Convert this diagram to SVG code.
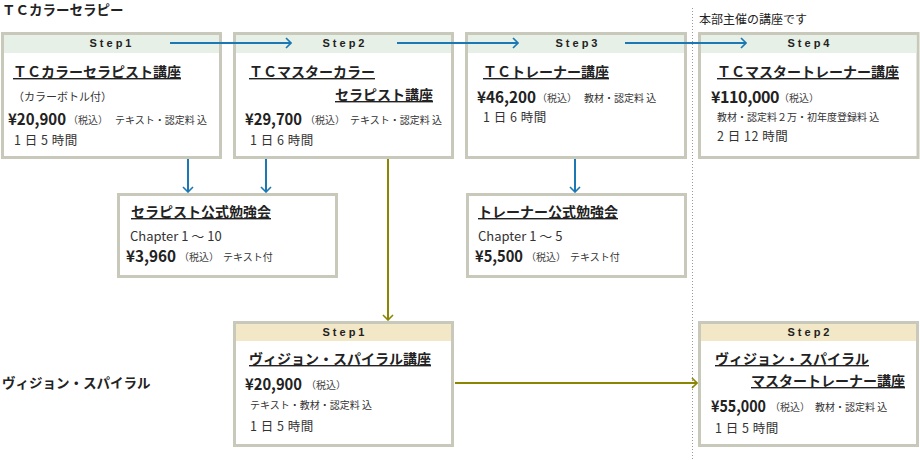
<svg xmlns="http://www.w3.org/2000/svg" width="920" height="460" viewBox="0 0 920 460">
<defs>
<style>
text{font-family:"Noto Sans CJK JP","Noto Sans",sans-serif;fill:#222}
.box{fill:#fff;stroke:#c9c9bb;stroke-width:3}
.hg{fill:#e6f0e6}
.hy{fill:#f2e7c6}
.step{font-family:"Liberation Sans",Arial,sans-serif;font-size:11px;font-weight:bold;letter-spacing:3px;text-anchor:middle;fill:#222}
.ttl{font-size:14px;font-weight:bold;text-decoration:underline}
.sec{font-size:13.5px;font-weight:bold}
.price{font-size:16px;font-weight:bold}
.tax{font-size:10px;fill:#444}
.sm{font-size:10px;fill:#333}
.time{font-size:12.5px;fill:#333;letter-spacing:0.5px}
.sub{font-size:11px;fill:#333}
.ch{font-size:13px;fill:#333}
.bl{stroke:#1a78b4;stroke-width:2;fill:none}
.ol{stroke:#8c8500;stroke-width:2;fill:none}
</style>
<marker id="ab" viewBox="0 0 7 12" refX="6" refY="6" markerWidth="7" markerHeight="12" orient="auto" markerUnits="userSpaceOnUse">
<path d="M1,1 L6,6 L1,11" fill="none" stroke="#1a78b4" stroke-width="1.6"/>
</marker>
<marker id="ao" viewBox="0 0 7 12" refX="6" refY="6" markerWidth="7" markerHeight="12" orient="auto" markerUnits="userSpaceOnUse">
<path d="M1,1 L6,6 L1,11" fill="none" stroke="#8c8500" stroke-width="1.6"/>
</marker>
</defs>
<rect width="920" height="460" fill="#fff"/>
<text class="sec" x="2" y="15">ＴＣカラーセラピー</text>
<text class="sec" x="2" y="388">ヴィジョン・スパイラル</text>
<line x1="692.5" y1="8" x2="692.5" y2="460" stroke="#999" stroke-width="1" stroke-dasharray="1 2"/>
<text x="699" y="24" font-size="12" fill="#333">本部主催の講座です</text>

<g id="tc-step1">
<rect class="box" x="2.5" y="33.5" width="218" height="124"/>
<rect class="hg" x="4" y="35" width="215" height="18"/>
<text class="step" x="112" y="47">Step1</text>
<text class="ttl" x="13" y="77">ＴＣカラーセラピスト講座</text>
<text class="sub" x="13" y="101">（カラーボトル付）</text>
<text class="price" x="8" y="125" textLength="58" lengthAdjust="spacingAndGlyphs">¥20,900</text>
<text class="tax" x="68" y="124">（税込）</text>
<text class="sm" x="115" y="124">テキスト・認定料 込</text>
<text class="time" x="14" y="145">1 日 5 時間</text>
</g>

<g id="tc-step2">
<rect class="box" x="234.5" y="33.5" width="218" height="124"/>
<rect class="hg" x="236" y="35" width="215" height="18"/>
<text class="step" x="345" y="47">Step2</text>
<text class="ttl" x="249" y="77">ＴＣマスターカラー</text>
<text class="ttl" x="335" y="100">セラピスト講座</text>
<text class="price" x="245" y="125" textLength="57" lengthAdjust="spacingAndGlyphs">¥29,700</text>
<text class="tax" x="305" y="124">（税込）</text>
<text class="sm" x="350" y="124">テキスト・認定料 込</text>
<text class="time" x="250" y="145">1 日 6 時間</text>
</g>

<g id="tc-step3">
<rect class="box" x="466.5" y="33.5" width="219" height="124"/>
<rect class="hg" x="468" y="35" width="216" height="18"/>
<text class="step" x="578" y="47">Step3</text>
<text class="ttl" x="483" y="77">ＴＣトレーナー講座</text>
<text class="price" x="477" y="103" textLength="59" lengthAdjust="spacingAndGlyphs">¥46,200</text>
<text class="tax" x="537" y="102">（税込）</text>
<text class="sm" x="584" y="102">教材・認定料 込</text>
<text class="time" x="483" y="122">1 日 6 時間</text>
</g>

<g id="tc-step4">
<rect class="box" x="699.5" y="33.5" width="218.5" height="124"/>
<rect class="hg" x="701" y="35" width="215.5" height="18"/>
<text class="step" x="810" y="47">Step4</text>
<text class="ttl" x="717" y="77">ＴＣマスタートレーナー講座</text>
<text class="price" x="711" y="103" font-size="15.5" letter-spacing="-0.4">¥110,000</text>
<text class="tax" x="779" y="102">（税込）</text>
<text class="sm" x="717" y="121">教材・認定料２万・初年度登録料 込</text>
<text class="time" x="717" y="141">2 日 12 時間</text>
</g>

<g id="therapist-study">
<rect class="box" x="118.5" y="194.5" width="218" height="82"/>
<text class="ttl" x="131" y="217">セラピスト公式勉強会</text>
<text class="ch" x="130" y="241">Chapter 1 ～ 10</text>
<text class="price" x="126" y="262" textLength="50" lengthAdjust="spacingAndGlyphs">¥3,960</text>
<text class="tax" x="179" y="261">（税込）</text>
<text class="sm" x="223" y="261">テキスト付</text>
</g>

<g id="trainer-study">
<rect class="box" x="467.5" y="194.5" width="218" height="82"/>
<text class="ttl" x="478" y="217">トレーナー公式勉強会</text>
<text class="ch" x="478" y="241">Chapter 1 ～ 5</text>
<text class="price" x="475" y="262" textLength="48" lengthAdjust="spacingAndGlyphs">¥5,500</text>
<text class="tax" x="526" y="261">（税込）</text>
<text class="sm" x="570" y="261">テキスト付</text>
</g>

<g id="vs-step1">
<rect class="box" x="234.5" y="322.5" width="218" height="123"/>
<rect class="hy" x="236" y="324" width="215" height="17"/>
<text class="step" x="345" y="336">Step1</text>
<text class="ttl" x="249" y="364">ヴィジョン・スパイラル講座</text>
<text class="price" x="245" y="390" textLength="57" lengthAdjust="spacingAndGlyphs">¥20,900</text>
<text class="tax" x="306" y="389">（税込）</text>
<text class="sm" x="250" y="409">テキスト・教材・認定料 込</text>
<text class="time" x="250" y="431">1 日 5 時間</text>
</g>

<g id="vs-step2">
<rect class="box" x="699.5" y="322.5" width="218" height="123"/>
<rect class="hy" x="701" y="324" width="215" height="17"/>
<text class="step" x="810" y="336">Step2</text>
<text class="ttl" x="715" y="364">ヴィジョン・スパイラル</text>
<text class="ttl" x="751" y="386">マスタートレーナー講座</text>
<text class="price" x="711" y="412" textLength="55" lengthAdjust="spacingAndGlyphs">¥55,000</text>
<text class="tax" x="770" y="411">（税込）</text>
<text class="sm" x="815" y="411">教材・認定料 込</text>
<text class="time" x="715" y="433">1 日 5 時間</text>
</g>

<g id="connectors">
<line class="bl" x1="170" y1="43" x2="291" y2="43" marker-end="url(#ab)"/>
<line class="bl" x1="397" y1="43" x2="518" y2="43" marker-end="url(#ab)"/>
<line class="bl" x1="625" y1="43" x2="746" y2="43" marker-end="url(#ab)"/>
<line class="bl" x1="188" y1="159" x2="188" y2="192" marker-end="url(#ab)"/>
<line class="bl" x1="266" y1="159" x2="266" y2="192" marker-end="url(#ab)"/>
<line class="bl" x1="575" y1="159" x2="575" y2="192" marker-end="url(#ab)"/>
<line class="ol" x1="388" y1="159" x2="388" y2="320" marker-end="url(#ao)"/>
<line class="ol" x1="455" y1="383" x2="697" y2="383" marker-end="url(#ao)"/>
</g>
</svg>
